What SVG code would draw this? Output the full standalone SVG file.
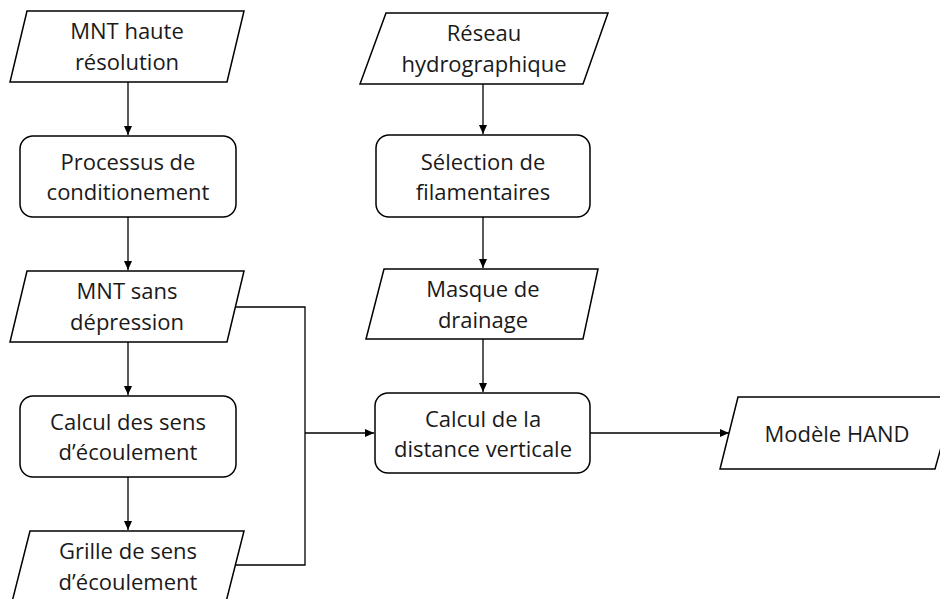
<svg xmlns="http://www.w3.org/2000/svg" width="940" height="599" viewBox="0 0 940 599">
<defs>
<style>
.shape{fill:#fff;stroke:#000;stroke-width:1.5}
.t{font-family:"Open Sans","Liberation Sans",sans-serif;font-size:22px;fill:#1a1a1a;text-anchor:middle}
.c{fill:none;stroke:#000;stroke-width:1.3}
</style>
<marker id="ah" markerWidth="10" markerHeight="10" refX="9" refY="5" orient="auto" markerUnits="userSpaceOnUse">
<path d="M0,1 L9,5 L0,9 Z" fill="#000"/>
</marker>
</defs>
<rect width="940" height="599" fill="#fff"/>
<g id="connectors">
<path class="c" d="M128,82 V135" marker-end="url(#ah)"/>
<path class="c" d="M128,217 V270" marker-end="url(#ah)"/>
<path class="c" d="M128,342 V395" marker-end="url(#ah)"/>
<path class="c" d="M128,477 V530" marker-end="url(#ah)"/>
<path class="c" d="M483,84 V134" marker-end="url(#ah)"/>
<path class="c" d="M483,217 V268" marker-end="url(#ah)"/>
<path class="c" d="M483,339 V392" marker-end="url(#ah)"/>
<path class="c" d="M236,307 H305 V565 H236"/>
<path class="c" d="M305,433 H374" marker-end="url(#ah)"/>
<path class="c" d="M590,433 H729" marker-end="url(#ah)"/>
</g>
<g id="mnt-haute">
<polygon class="shape" points="27,11 244,11 227,82 10,82"/>
<text class="t" x="127" y="39">MNT haute</text>
<text class="t" x="127" y="70">résolution</text>
</g>
<g id="processus">
<rect class="shape" x="20" y="136" width="216" height="81" rx="13"/>
<text class="t" x="128" y="170">Processus de</text>
<text class="t" x="128" y="200">conditionement</text>
</g>
<g id="mnt-sans">
<polygon class="shape" points="27,271 244,271 227,342 10,342"/>
<text class="t" x="127" y="299">MNT sans</text>
<text class="t" x="127" y="330">dépression</text>
</g>
<g id="calcul-sens">
<rect class="shape" x="20" y="396" width="216" height="81" rx="13"/>
<text class="t" x="128" y="430">Calcul des sens</text>
<text class="t" x="128" y="460">d’écoulement</text>
</g>
<g id="grille">
<polygon class="shape" points="30,531 244,531 226,602 12,602"/>
<text class="t" x="128" y="559">Grille de sens</text>
<text class="t" x="128" y="590">d’écoulement</text>
</g>
<g id="reseau">
<polygon class="shape" points="386,13 608,13 583,84 360,84"/>
<text class="t" x="484" y="41">Réseau</text>
<text class="t" x="484" y="72">hydrographique</text>
</g>
<g id="selection">
<rect class="shape" x="376" y="135" width="214" height="82" rx="13"/>
<text class="t" x="483" y="170">Sélection de</text>
<text class="t" x="483" y="200">filamentaires</text>
</g>
<g id="masque">
<polygon class="shape" points="384,269 598,269 583,339 366,339"/>
<text class="t" x="483" y="297">Masque de</text>
<text class="t" x="483" y="328">drainage</text>
</g>
<g id="distance">
<rect class="shape" x="375" y="393" width="215" height="80" rx="13"/>
<text class="t" x="483" y="427">Calcul de la</text>
<text class="t" x="483" y="457">distance verticale</text>
</g>
<g id="hand">
<polygon class="shape" points="738,397 955,397 935,469 720,469"/>
<text class="t" x="837" y="442">Modèle HAND</text>
</g>
</svg>
